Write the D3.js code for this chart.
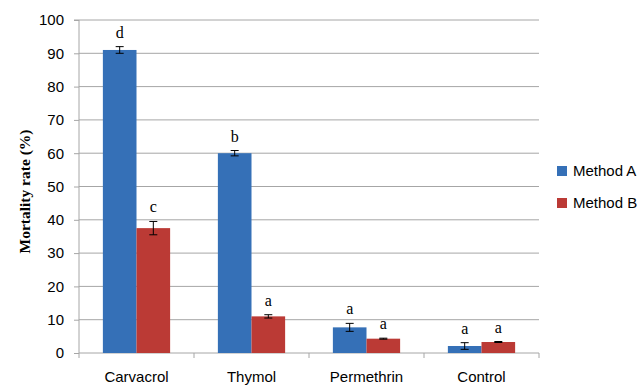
<!DOCTYPE html>
<html>
<head>
<meta charset="utf-8">
<script src="https://cdn.jsdelivr.net/npm/d3@7"></script>
<style>
  body { margin: 0; background: #fff; }
</style>
</head>
<body>
<svg id="chart"></svg>
<script>
const categories = ["Carvacrol", "Thymol", "Permethrin", "Control"];
const seriesNames = ["Method A", "Method B"];
const methodA = [91, 60, 7.7, 2.1];
const methodB = [37.5, 11, 4.3, 3.3];
const errA = [1, 0.8, 1.2, 1];
const errB = [2, 0.5, 0.15, 0.15];
const lettersA = ["d", "b", "a", "a"];
const lettersB = ["c", "a", "a", "a"];
const yTicks = [0, 10, 20, 30, 40, 50, 60, 70, 80, 90, 100];

const width = 644;
const height = 385;
const plotLeft = 79, plotRight = 539, plotTop = 20, plotBottom = 353;
const colors = ["#3570b7", "#bb3a35"];
const sansFont = "'Liberation Sans', Arial, sans-serif";

const svg = d3.select("#chart")
              .attr("width", width)
              .attr("height", height);

const x0 = d3.scaleBand()
             .domain(categories)
             .range([plotLeft, plotRight])
             .paddingInner(0)
             .paddingOuter(0);
const x1 = d3.scaleBand()
             .domain(seriesNames)
             .range([0, x0.bandwidth()])
             .paddingOuter(0.71);
const y = d3.scaleLinear()
            .domain([0, 100])
            .range([plotBottom, plotTop]);

// gridlines
svg.append("g")
   .selectAll("line")
   .data(yTicks.slice(1))
   .enter()
   .append("line")
   .attr("x1", plotLeft)
   .attr("x2", plotRight)
   .attr("y1", d => y(d))
   .attr("y2", d => y(d))
   .attr("stroke", "#a6a6a6")
   .attr("stroke-width", 1);

// y axis
const yAxis = d3.axisLeft(y).tickValues(yTicks).tickSize(5).tickPadding(10);
const yg = svg.append("g")
   .attr("transform", `translate(${plotLeft}, 0)`)
   .call(yAxis);
yg.select(".domain").attr("stroke", "#a6a6a6").attr("d", `M-5,${plotTop}H0V${plotBottom}`);
yg.selectAll(".tick line").attr("stroke", "#a6a6a6");
yg.selectAll(".tick text")
  .attr("font-family", sansFont)
  .attr("font-size", 15)
  .attr("fill", "#000");

// x axis
const xAxis = d3.axisBottom(x0).tickSize(0).tickPadding(18);
const xg = svg.append("g")
   .attr("transform", `translate(0, ${plotBottom})`)
   .call(xAxis);
xg.select(".domain").attr("stroke", "#a6a6a6").attr("d", `M${plotLeft},0H${plotRight}`);
xg.selectAll(".tick text")
  .attr("font-family", sansFont)
  .attr("font-size", 15)
  .attr("fill", "#000");
xg.append("g")
  .selectAll("line")
  .data(categories.concat(["end"]))
  .enter()
  .append("line")
  .attr("x1", (d, i) => plotLeft + i * x0.step())
  .attr("x2", (d, i) => plotLeft + i * x0.step())
  .attr("y1", 0)
  .attr("y2", 5)
  .attr("stroke", "#a6a6a6");

// bars
const rows = categories.map((c, i) => ({
  cat: c,
  vals: [
    { s: seriesNames[0], v: methodA[i], e: errA[i], l: lettersA[i], c: colors[0] },
    { s: seriesNames[1], v: methodB[i], e: errB[i], l: lettersB[i], c: colors[1] }
  ]
}));

const groups = svg.selectAll(".group")
   .data(rows)
   .enter()
   .append("g")
   .attr("class", "group")
   .attr("transform", d => `translate(${x0(d.cat)}, 0)`);

groups.selectAll("rect")
   .data(d => d.vals)
   .enter()
   .append("rect")
   .attr("x", d => x1(d.s))
   .attr("y", d => y(d.v))
   .attr("width", x1.bandwidth())
   .attr("height", d => plotBottom - y(d.v))
   .attr("fill", d => d.c);

// error bars
const eb = groups.selectAll(".err")
   .data(d => d.vals)
   .enter()
   .append("g")
   .attr("class", "err")
   .attr("stroke", "#000")
   .attr("stroke-width", 1);
eb.append("line")
  .attr("x1", d => x1(d.s) + x1.bandwidth() / 2)
  .attr("x2", d => x1(d.s) + x1.bandwidth() / 2)
  .attr("y1", d => y(d.v + d.e))
  .attr("y2", d => y(d.v - d.e));
eb.append("line")
  .attr("x1", d => x1(d.s) + x1.bandwidth() / 2 - 4)
  .attr("x2", d => x1(d.s) + x1.bandwidth() / 2 + 4)
  .attr("y1", d => y(d.v + d.e))
  .attr("y2", d => y(d.v + d.e));
eb.append("line")
  .attr("x1", d => x1(d.s) + x1.bandwidth() / 2 - 4)
  .attr("x2", d => x1(d.s) + x1.bandwidth() / 2 + 4)
  .attr("y1", d => y(d.v - d.e))
  .attr("y2", d => y(d.v - d.e));

// significance letters
groups.selectAll(".letter")
   .data(d => d.vals)
   .enter()
   .append("text")
   .attr("class", "letter")
   .attr("x", d => x1(d.s) + x1.bandwidth() / 2)
   .attr("y", d => y(d.v + d.e) - 9)
   .attr("text-anchor", "middle")
   .attr("font-family", "'Liberation Serif', serif")
   .attr("font-size", 16)
   .attr("fill", "#000")
   .text(d => d.l);

// y label
svg.append("text")
   .attr("transform", `translate(30, ${(plotTop + plotBottom) / 2 + 5}) rotate(-90)`)
   .attr("text-anchor", "middle")
   .attr("font-family", "'Liberation Serif', serif")
   .attr("font-weight", "bold")
   .attr("font-size", 15.5)
   .text("Mortality rate (%)");

// legend
const legend = svg.selectAll(".legend")
   .data(seriesNames)
   .enter()
   .append("g")
   .attr("class", "legend")
   .attr("transform", (d, i) => `translate(557, ${176 + i * 32})`);
legend.append("rect")
   .attr("x", 0)
   .attr("y", -10)
   .attr("width", 10)
   .attr("height", 10)
   .attr("fill", (d, i) => colors[i]);
legend.append("text")
   .attr("x", 16)
   .attr("y", 0)
   .attr("font-family", sansFont)
   .attr("font-size", 15)
   .text(d => d);
</script>
</body>
</html>
